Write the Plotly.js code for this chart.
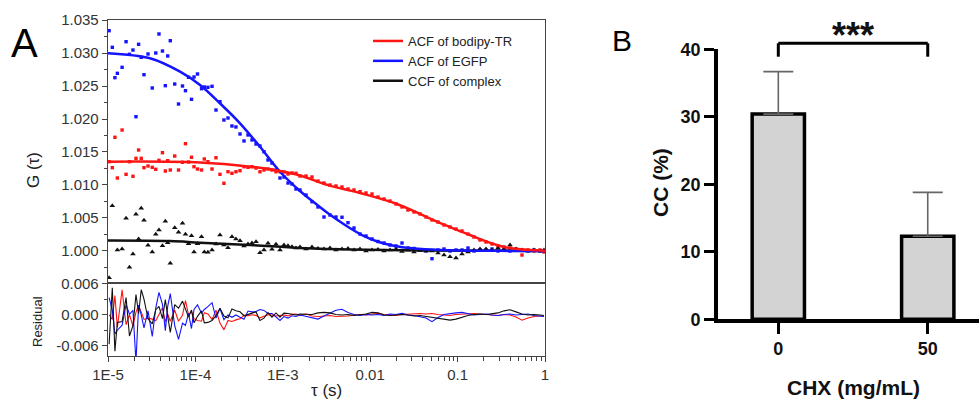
<!DOCTYPE html>
<html><head><meta charset="utf-8">
<script src="https://cdn.plot.ly/plotly-3.0.1.min.js"></script>
<style>html,body{margin:0;padding:0;background:#fff}#chart{width:979px;height:401px}</style>
</head><body><div id="chart"></div>
<script>
// ---------- Panel A data ----------
const tau = [1.03e-5,1.12e-5,1.20e-5,1.28e-5,1.45e-5,1.61e-5,1.76e-5,1.93e-5,2.09e-5,2.24e-5,2.40e-5,2.58e-5,2.87e-5,3.21e-5,3.52e-5,3.83e-5,4.20e-5,4.53e-5,4.82e-5,5.16e-5,5.80e-5,6.41e-5,7.12e-5,7.70e-5,8.34e-5,9.02e-5,9.64e-5,1.057e-4,1.175e-4,1.265e-4,
1.39e-4,1.55e-4,1.72e-4,1.91e-4,2.12e-4,2.36e-4,2.62e-4,2.91e-4,3.24e-4,3.60e-4,4.00e-4,4.44e-4,4.94e-4,5.48e-4,6.09e-4,6.77e-4,7.52e-4,8.36e-4,9.29e-4,1.032e-3,1.147e-3,1.274e-3,1.416e-3,1.573e-3,
1.842e-3,2.158e-3,2.527e-3,2.960e-3,3.467e-3,4.061e-3,4.756e-3,5.572e-3,6.525e-3,7.643e-3,8.951e-3,1.049e-2,1.228e-2,1.439e-2,1.685e-2,1.974e-2,2.312e-2,2.707e-2,3.171e-2,3.714e-2,4.349e-2,5.095e-2,5.967e-2,6.989e-2,8.185e-2,9.587e-2,0.1123,0.1315,0.1540,0.1804,0.2113,0.2475,0.2899,0.3395,0.3977,0.4658,0.5455,0.6390,0.7484,0.8766,0.974];

const gBodipy = [1.01353,1.01262,1.01723,1.01106,1.01833,1.01162,1.01353,1.01132,1.01404,1.01530,1.01404,1.01262,1.01288,1.01268,1.01238,1.01374,1.01489,1.01212,1.01368,1.01227,1.01439,1.01227,1.01344,1.01626,1.01348,1.01420,1.01277,1.01242,1.01227,1.01394,
1.01353,1.01242,1.01413,1.01162,1.01026,1.01201,1.01177,1.01201,1.01217,1.01277,1.01268,1.01277,1.01257,1.01201,1.01227,1.01242,1.01227,1.01201,1.01201,1.01197,1.01167,1.01182,1.01177,1.01136,
1.01136,1.01121,1.01060,1.01030,1.01000,1.00985,1.00970,1.00939,1.00925,1.00900,1.00879,1.00864,1.00818,1.00788,1.00757,1.00712,1.00667,1.00621,1.00591,1.00561,1.00515,1.00470,1.00439,1.00394,1.00364,1.00333,1.00303,1.00257,1.00212,1.00167,1.00136,1.00106,1.00076,1.00060,1.00045,1.00030,0.99939,1.00015,1.00000,1.00015,0.99985];

const gEGFP = [1.03338,1.03086,1.02626,1.02692,1.02783,1.03171,1.02980,1.03045,1.02035,1.03132,1.02935,1.02671,1.02985,1.02470,1.03000,1.03288,1.03030,1.02505,1.02955,1.03186,1.02530,1.02227,1.02500,1.02429,1.02632,1.02298,1.02636,1.02682,1.02459,1.02485,
1.02480,1.02495,1.02136,1.02262,1.01985,1.02015,1.01894,1.01879,1.01773,1.01667,1.01758,1.01682,1.01621,1.01591,1.01504,1.01379,1.01333,1.01227,1.01106,1.01121,1.01030,1.01015,1.00939,1.00924,
1.00848,1.00747,1.00667,1.00515,1.00545,1.00515,1.00511,1.00429,1.00348,1.00257,1.00227,1.00182,1.00144,1.00121,1.00091,1.00076,1.00121,1.00045,1.00038,1.00015,1.00000,0.99883,1.00015,1.00030,1.00000,1.00015,1.00015,1.00045,1.00000,1.00015,1.00015,1.00030,1.00000,1.00015,1.00000,1.00015,1.00015,1.00000,1.00015,1.00000,1.00000];

const gComplex = [0.99595,1.00686,0.99450,1.00015,1.00030,1.00495,0.99753,0.99954,1.00556,1.00182,1.00647,1.00465,1.00086,0.99985,1.00253,1.00318,1.00080,1.00450,1.00126,0.99814,1.00353,1.00283,1.00420,1.00253,1.00111,1.00232,0.99985,1.00111,1.00217,0.99985,
0.99980,1.00015,1.00106,1.00242,1.00091,1.00050,1.00217,1.00182,1.00156,1.00076,1.00106,1.00121,1.00141,0.99974,1.00015,1.00117,1.00026,1.00101,1.00015,1.00091,1.00080,1.00065,1.00045,1.00060,
1.00030,1.00060,1.00038,1.00030,1.00045,1.00015,1.00030,1.00038,1.00015,1.00030,1.00000,1.00015,1.00023,1.00000,1.00015,1.00030,0.99992,1.00015,0.99985,1.00008,1.00000,1.00000,0.99970,0.99939,0.99914,0.99894,0.99955,0.99985,1.00015,1.00030,1.00030,1.00015,1.00045,1.00030,1.00091,1.00030,1.00015,1.00000,1.00015,1.00000,1.00015];

const resBodipy = [0.00005,-0.00086,0.00374,-0.00242,0.00485,-0.00186,0.00005,-0.00217,0.00056,0.00182,0.00056,-0.00086,-0.00061,-0.00080,-0.00111,0.00026,0.00141,-0.00136,0.00020,-0.00121,0.00091,-0.00121,-0.00005,0.00277,0,0.00071,-0.00071,-0.00106,-0.00121,0.00045,
0.00020,-0.00086,0.00091,-0.00156,-0.00288,-0.00106,-0.00126,-0.00095,-0.00074,-0.00008,-0.00012,0.00005,-0.00008,-0.00056,-0.00023,0.00003,-0.00003,-0.00020,-0.00011,-0.00002,-0.00018,0.00011,0.00020,-0.00008,
0.0002,-0.0002,-0.0003,-0.0002,-0.0001,-0.0003,-0.0003,-0.0002,0,0.0001,0,0.0002,0.0003,0.0001,0,-0.0001,0.0001,0.0002,0.0002,0.0003,0.0002,0.0003,0.0001,0,-0.0001,0.0001,0.0002,0.0002,0.0003,0.0002,0.0001,0,-0.0001,0.0001,0,-0.0004,-0.0010,-0.0006,-0.0003,-0.0002,-0.0002];

const resEGFP = [0.00338,0.00089,-0.00367,-0.00295,-0.00198,0.00198,0.00014,0.00091,-0.00912,0.00192,0.00003,-0.00250,0.00080,-0.00417,0.00136,0.00439,0.00205,-0.00303,0.00167,0.00414,-0.00205,-0.00470,-0.00159,-0.00200,0.00033,-0.00262,0.00106,0.00197,0.00035,0.00106,
0.00162,0.00238,-0.00061,0.00126,-0.00091,0,-0.00045,0,-0.00045,-0.00083,0.00076,0.00061,0.00068,0.00106,0.00088,0.00030,0.00030,-0.00030,-0.00106,-0.00030,-0.00061,-0.00015,-0.00030,0,
-0.0003,-0.0006,-0.0008,-0.0002,0.0004,0.0009,0.0011,0.0005,0.0001,-0.0001,0.0001,0,0.0001,-0.0001,0.0002,0.0001,0.0003,0,-0.0001,-0.0003,-0.0006,-0.0013,-0.0005,0.0001,0.0003,0.0004,0.0005,0.0003,0,0.0001,0.0002,0,-0.0001,0.0001,0.0002,0,0.0001,0.0002,-0.0001,-0.0002,-0.0003];

const resComplex = [-0.00564,0.00527,-0.00700,-0.00144,-0.00129,0.00336,-0.00406,-0.00205,0.00397,0.00023,0.00488,0.00306,-0.00073,-0.00174,0.00102,0.00167,-0.00071,0.00298,-0.00026,-0.00338,0.00202,0.00132,0.00268,0.00102,-0.00041,0.00095,-0.00152,-0.00026,0.00080,-0.00152,
-0.00144,-0.00106,-0.00012,0.00129,-0.00020,-0.00056,0.00115,0.00083,0.00061,-0.00015,0.00018,0.00036,0.00059,-0.00105,-0.00061,0.00045,-0.00041,0.00039,-0.00042,0.00036,0.00029,0.00017,0,0.00018,
0.0002,0.0001,0.0004,0.0005,0.0004,0.0001,0,0.0001,-0.0001,0,0.0002,0.0005,0.0004,0,-0.0001,0,0.0001,0,-0.0002,-0.0001,-0.0003,-0.0005,-0.0007,-0.0009,-0.0010,-0.0008,-0.0004,-0.0001,0.0001,0.0002,0.0001,0.0002,0.0004,0.0008,0.0010,0.0006,0.0002,0,0.0001,0,-0.0001];

const fitBodipyTau = [1e-5,1.13e-4,4.22e-4,9.29e-4,1.57e-3,3.29e-3,8.05e-3,1.92e-2,3.72e-2,5.81e-2,8.85e-2,0.139,0.217,0.330,0.518,1];
const fitBodipyG   = [1.01353,1.01341,1.01278,1.01212,1.01144,1.00998,1.00871,1.00723,1.00561,1.00444,1.00344,1.00242,1.00141,1.00065,1.00026,1.00005];
const fitEGFPTau = [1e-5,3.02e-5,6.67e-5,1.13e-4,1.91e-4,3.24e-4,5.48e-4,9.29e-4,1.573e-3,2.158e-3,3.29e-3,5.15e-3,8.05e-3,1.23e-2,1.92e-2,3.01e-2,4.24e-2,0.1,0.3,1];
const fitEGFPG   = [1.02998,1.02920,1.02717,1.02515,1.02238,1.01935,1.01580,1.01201,1.00909,1.00760,1.00571,1.00394,1.00242,1.00141,1.00076,1.00041,1.00026,1.00008,1.00002,1.00000];
const fitComplexTau = [1e-5,5.16e-5,1.13e-4,4.22e-4,1.57e-3,5.8e-3,3.72e-2,1];
const fitComplexG   = [1.00159,1.00151,1.00126,1.00091,1.00045,1.00023,1.00008,1.00000];

const legendNames = ['ACF of bodipy-TR','ACF of EGFP','CCF of complex'];
const xTickVals = [1e-5,1e-4,1e-3,0.01,0.1,1];
const xTickText = ['1E-5','1E-4','1E-3','0.01','0.1','1'];

// ---------- Panel B data ----------
const chxCats = ['0','50'];
const ccMean = [30.4, 12.3];
const ccErrUp = [6.3, 6.5];

const RED='#ff1414', BLUE='#1414ff', BLK='#111111';
const FONT='Liberation Sans, Arial, sans-serif';
const W=979,H=401;
const px=v=>v/W, py=v=>1-v/H;

const traces = [
 {x:tau,y:gEGFP,type:'scatter',mode:'markers',marker:{color:BLUE,size:3.4,symbol:'square'},xaxis:'x',yaxis:'y',showlegend:false},
 {x:tau,y:gBodipy,type:'scatter',mode:'markers',marker:{color:RED,size:3.4,symbol:'square'},xaxis:'x',yaxis:'y',showlegend:false},
 {x:tau,y:gComplex,type:'scatter',mode:'markers',marker:{color:BLK,size:5,symbol:'triangle-up'},xaxis:'x',yaxis:'y',showlegend:false},
 {x:fitComplexTau,y:fitComplexG,type:'scatter',mode:'lines',line:{color:BLK,width:2.5,shape:'spline'},name:legendNames[2],legendrank:3,xaxis:'x',yaxis:'y'},
 {x:fitEGFPTau,y:fitEGFPG,type:'scatter',mode:'lines',line:{color:BLUE,width:2.5,shape:'spline'},name:legendNames[1],legendrank:2,xaxis:'x',yaxis:'y'},
 {x:fitBodipyTau,y:fitBodipyG,type:'scatter',mode:'lines',line:{color:RED,width:2.5,shape:'spline'},name:legendNames[0],legendrank:1,xaxis:'x',yaxis:'y'},
 {x:tau,y:resBodipy,type:'scatter',mode:'lines',line:{color:RED,width:1.1},xaxis:'x2',yaxis:'y2',showlegend:false},
 {x:tau,y:resEGFP,type:'scatter',mode:'lines',line:{color:BLUE,width:1.1},xaxis:'x2',yaxis:'y2',showlegend:false},
 {x:tau,y:resComplex,type:'scatter',mode:'lines',line:{color:BLK,width:1.1},xaxis:'x2',yaxis:'y2',showlegend:false},
 {x:chxCats,y:ccMean,type:'bar',width:0.35,xaxis:'x3',yaxis:'y3',showlegend:false,
  marker:{color:'#d3d3d3',line:{color:'#000',width:3.5}},
  error_y:{type:'data',symmetric:false,array:ccErrUp,arrayminus:[0,0],color:'#666',thickness:1.6,width:15}}
];

const axA = {showgrid:false,zeroline:false,showline:true,linecolor:'#444',linewidth:1.3,mirror:true,
  tickcolor:'#444',tickfont:{family:FONT,size:15,color:'#333'}};

const i0 = chxCats.indexOf('0'), i1 = chxCats.indexOf('50');

const layout = {
 width:W,height:H,margin:{l:0,r:0,t:0,b:0},paper_bgcolor:'#fff',plot_bgcolor:'#fff',
 font:{family:FONT},
 showlegend:true,
 legend:{x:px(368),y:py(26),xanchor:'left',yanchor:'top',bgcolor:'rgba(0,0,0,0)',borderwidth:0,
   font:{family:FONT,size:13,color:'#222'},tracegroupgap:0,itemwidth:30},
 xaxis:Object.assign({},axA,{type:'log',range:[-5,0],domain:[px(108),px(545)],anchor:'y',showticklabels:false,ticks:''}),
 yaxis:Object.assign({},axA,{range:[0.99515,1.035],domain:[py(283),py(20)],anchor:'x',tickmode:'linear',tick0:1,dtick:0.005,
   tickformat:'.3f',ticks:'outside',ticklen:5,minor:{ticks:'outside',ticklen:3,dtick:0.0025,tick0:1,tickcolor:'#444'}}),
 xaxis2:Object.assign({},axA,{type:'log',range:[-5,0],domain:[px(108),px(545)],anchor:'y2',tickmode:'array',tickvals:xTickVals,ticktext:xTickText,
   ticks:'outside',ticklen:5,minor:{ticks:'outside',ticklen:4,dtick:'D1',tickcolor:'#444'}}),
 yaxis2:Object.assign({},axA,{range:[-0.00794,0.00619],domain:[py(356),py(283)],anchor:'x2',tickmode:'array',tickvals:[-0.006,0,0.006],
   ticktext:['-0.006','0.000','0.006'],ticks:'outside',ticklen:5,minor:{ticks:'outside',ticklen:3,tickmode:'array',tickvals:[-0.003,0.003],tickcolor:'#444'}}),
 xaxis3:{type:'category',range:[-0.4056,1.343],domain:[px(717.7),1],anchor:'y3',showgrid:false,zeroline:false,showline:true,linecolor:'#000',linewidth:3.5,
   ticks:'outside',ticklen:11,tickwidth:3,tickcolor:'#000',ticklabelstandoff:0,tickfont:{family:FONT,size:18,color:'#111',weight:700}},
 yaxis3:{range:[0,40],domain:[py(319.3),py(49.3)],anchor:'x3',showgrid:false,zeroline:false,showline:true,linecolor:'#000',linewidth:3.5,
   tickmode:'array',tickvals:[0,10,20,30,40],ticks:'outside',ticklen:10,tickwidth:3,tickcolor:'#000',tickfont:{family:FONT,size:18,color:'#111',weight:700}},
 shapes:[
  {type:'line',xref:'x3',yref:'paper',x0:i0,x1:i0,y0:py(56.7),y1:py(43.3),line:{color:'#000',width:3}},
  {type:'line',xref:'x3',yref:'paper',x0:i0,x1:i1,y0:py(43.3),y1:py(43.3),line:{color:'#000',width:3}},
  {type:'line',xref:'x3',yref:'paper',x0:i1,x1:i1,y0:py(56.7),y1:py(43.3),line:{color:'#000',width:3}}
 ],
 annotations:[
  {text:'A',xref:'paper',yref:'paper',x:px(24),y:py(43),xanchor:'center',yanchor:'middle',showarrow:false,font:{family:FONT,size:40,color:'#000'}},
  {text:'B',xref:'paper',yref:'paper',x:px(622),y:py(41),xanchor:'center',yanchor:'middle',showarrow:false,font:{family:FONT,size:30,color:'#000'}},
  {text:'G (τ)',xref:'paper',yref:'paper',x:px(33),y:py(170),xanchor:'center',yanchor:'middle',textangle:-90,showarrow:false,font:{family:FONT,size:17,color:'#222'}},
  {text:'Residual',xref:'paper',yref:'paper',x:px(37),y:py(322),xanchor:'center',yanchor:'middle',textangle:-90,showarrow:false,font:{family:FONT,size:13,color:'#222'}},
  {text:'τ (s)',xref:'paper',yref:'paper',x:px(326),y:py(390),xanchor:'center',yanchor:'middle',showarrow:false,font:{family:FONT,size:17,color:'#222'}},
  {text:'CC (%)',xref:'paper',yref:'paper',x:px(660),y:py(183),xanchor:'center',yanchor:'middle',textangle:-90,showarrow:false,font:{family:FONT,size:21,color:'#111',weight:700}},
  {text:'CHX (mg/mL)',xref:'paper',yref:'paper',x:px(853),y:py(387),xanchor:'center',yanchor:'middle',showarrow:false,font:{family:FONT,size:21,color:'#111',weight:700}},
  {text:'***',xref:'x3',yref:'paper',x:(i0+i1)/2,y:py(36),xanchor:'center',yanchor:'middle',showarrow:false,font:{family:FONT,size:36,color:'#111',weight:700}}
 ]
};

Plotly.newPlot('chart',traces,layout,{displayModeBar:false,staticPlot:true});
</script>
</body></html>
